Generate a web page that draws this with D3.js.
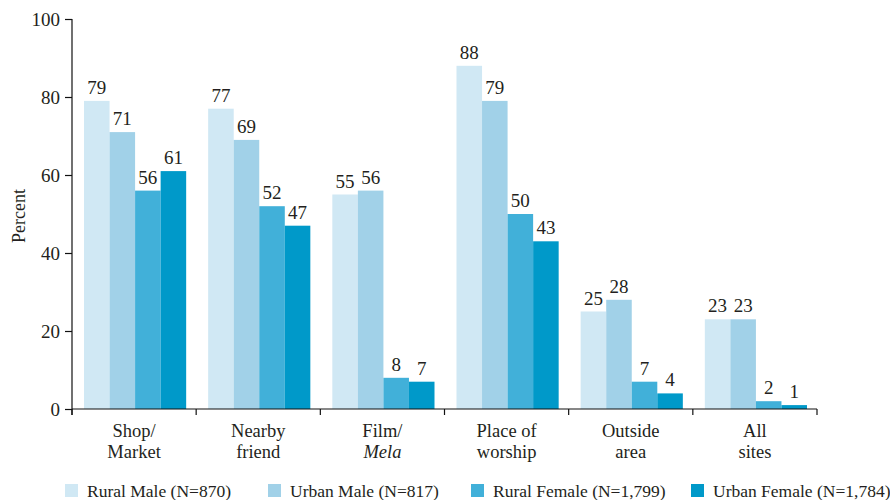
<!DOCTYPE html>
<html>
<head>
<meta charset="utf-8">
<script src="https://cdn.jsdelivr.net/npm/d3@7"></script>
<style>
  body { margin: 0; background: #fff; }
</style>
</head>
<body>
<div id="chart-area"></div>
<script>
let FONT = "Liberation Serif";

// categories (two text lines each)
let categories = [
  ["Shop/", "Market"],
  ["Nearby", "friend"],
  ["Film/", "Mela"],
  ["Place of", "worship"],
  ["Outside", "area"],
  ["All", "sites"]
];
let italicLine2 = [false, false, true, false, false, false];

let seriesNames = ["Rural Male (N=870)", "Urban Male (N=817)", "Rural Female (N=1,799)", "Urban Female (N=1,784)"];
let seriesColors = ["#d0e8f4", "#a1d1e8", "#41b0d9", "#0099c9"];

let ruralMale   = [79, 77, 55, 88, 25, 23];
let urbanMale   = [71, 69, 56, 79, 28, 23];
let ruralFemale = [56, 52, 8, 50, 7, 2];
let urbanFemale = [61, 47, 7, 43, 4, 1];

let yTicks = [0, 20, 40, 60, 80, 100];

let series = [ruralMale, urbanMale, ruralFemale, urbanFemale];

let fullWidth = 890, fullHeight = 500;
let margin = {top: 19, right: 73, bottom: 91, left: 72},
  width = fullWidth - margin.left - margin.right,
  height = fullHeight - margin.top - margin.bottom;

let chartSvg = d3.select("#chart-area")
  .append("svg")
  .attr("width", fullWidth)
  .attr("height", fullHeight)
  .attr("font-family", FONT);

let svg = chartSvg.append("g")
  .attr("transform", "translate(" + margin.left + "," + margin.top + ")");

let x0 = d3.scaleBand()
  .domain(d3.range(categories.length))
  .range([0, width])
  .padding(0);

let x1 = d3.scaleBand()
  .domain(d3.range(series.length))
  .range([12, x0.bandwidth() - 10])
  .padding(0);

let y = d3.scaleLinear().domain([0, 100]).range([height, 0]);

// bars
let groups = svg.selectAll(".group")
  .data(categories)
  .enter()
  .append("g")
  .attr("class", "group")
  .attr("transform", function(d, i) { return "translate(" + x0(i) + ",0)"; });

groups.selectAll("rect")
  .data(function(d, i) { return series.map(function(s, j) { return {s: j, v: s[i]}; }); })
  .enter()
  .append("rect")
  .attr("x", function(d) { return x1(d.s); })
  .attr("y", function(d) { return y(d.v); })
  .attr("width", x1.bandwidth())
  .attr("height", function(d) { return height - y(d.v); })
  .attr("fill", function(d) { return seriesColors[d.s]; });

groups.selectAll(".val")
  .data(function(d, i) { return series.map(function(s, j) { return {s: j, v: s[i]}; }); })
  .enter()
  .append("text")
  .attr("class", "val")
  .attr("x", function(d) { return x1(d.s) + x1.bandwidth() / 2; })
  .attr("y", function(d) { return y(d.v) - 7; })
  .attr("text-anchor", "middle")
  .attr("font-size", 19)
  .text(function(d) { return d.v; });

// ---- AXES ----
let yAxis = d3.axisLeft(y).tickValues(yTicks).tickSize(7).tickPadding(5);
let yG = svg.append("g").attr("class", "y-axis").call(yAxis);
yG.attr("font-family", FONT).attr("font-size", 19);
yG.select(".domain").attr("d", "M0,0V" + (height + 6));

let xAxis = d3.axisBottom(x0).tickValues([]).tickSizeOuter(0);
let xG = svg.append("g")
  .attr("transform", "translate(0," + height + ")")
  .call(xAxis);
xG.select(".domain").attr("d", "M0,0H" + width);

let tickPos = d3.range(categories.length + 1).map(function(i) { return i * x0.step(); });
xG.selectAll(".xtick")
  .data(tickPos)
  .enter()
  .append("line")
  .attr("class", "xtick")
  .attr("x1", function(d) { return d; })
  .attr("x2", function(d) { return d; })
  .attr("y1", 0)
  .attr("y2", 6);

chartSvg.selectAll(".domain, .tick line, .xtick").attr("stroke", "#111").attr("stroke-width", 1.2);

// category labels
let catLabels = svg.selectAll(".cat")
  .data(categories)
  .enter()
  .append("text")
  .attr("class", "cat")
  .attr("text-anchor", "middle")
  .attr("font-size", 18.5)
  .attr("transform", function(d, i) { return "translate(" + (x0(i) + x0.bandwidth() / 2) + "," + (height + 28) + ")"; });
catLabels.append("tspan").attr("x", 0).attr("y", 0).text(function(d) { return d[0]; });
catLabels.append("tspan").attr("x", 0).attr("y", 21)
  .attr("font-style", function(d, i) { return italicLine2[i] ? "italic" : "normal"; })
  .text(function(d) { return d[1]; });

// y axis title
svg.append("text")
  .attr("transform", "rotate(-90)")
  .attr("x", -(216 - margin.top))
  .attr("y", -margin.left + 25)
  .attr("text-anchor", "middle")
  .attr("font-size", 18)
  .text("Percent");

// legend
let legendX = [65, 268, 471, 691];
let legend = chartSvg.selectAll(".legend")
  .data(seriesNames)
  .enter()
  .append("g")
  .attr("class", "legend")
  .attr("transform", function(d, i) { return "translate(" + legendX[i] + ",484)"; });
legend.append("rect")
  .attr("width", 13)
  .attr("height", 13)
  .attr("fill", function(d, i) { return seriesColors[i]; });
legend.append("text")
  .attr("x", 22)
  .attr("y", 12.5)
  .attr("font-size", 17.5)
  .text(function(d) { return d; });

chartSvg.selectAll("text")
  .attr("font-family", FONT)
  .attr("fill", "#231f20");
</script>
</body>
</html>
